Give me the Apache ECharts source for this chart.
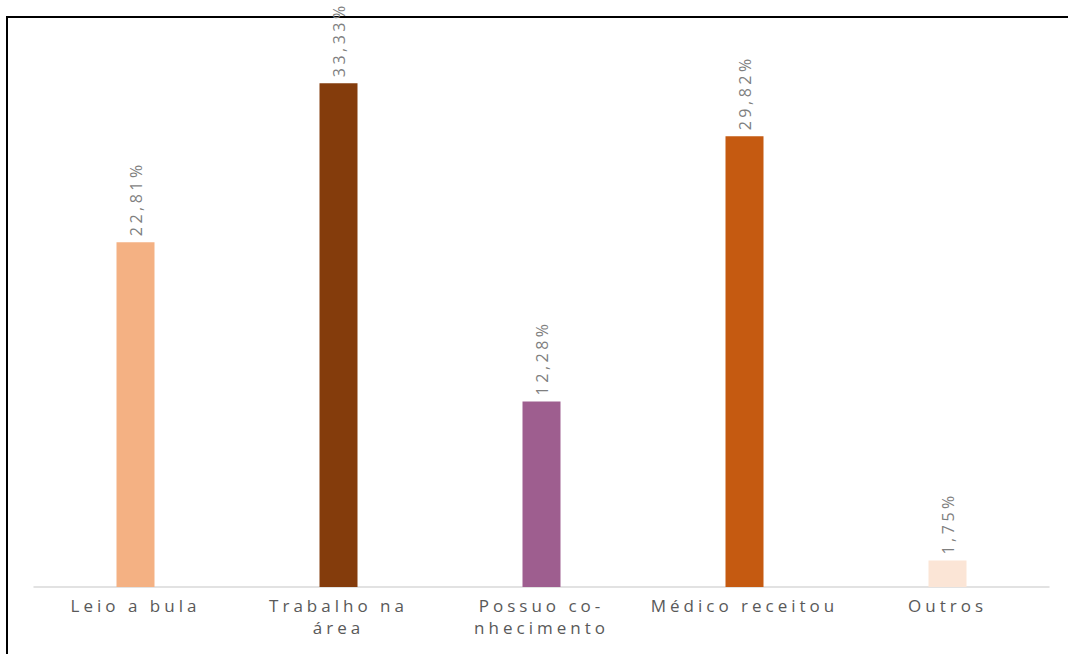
<!DOCTYPE html>
<html>
<head>
<meta charset="utf-8">
<script src="https://cdn.jsdelivr.net/npm/echarts@6/dist/echarts.min.js"></script>
<style>
html,body{margin:0;padding:0;background:#fff;}
#chart{width:1068px;height:654px;}
#chart text[fill="#595959"], #chart text[fill="rgb(89,89,89)"]{letter-spacing:4px;}
#chart text[fill="#7f7f7f"], #chart text[fill="rgb(127,127,127)"]{letter-spacing:3.5px;}
</style>
</head>
<body>
<div id="chart"></div>
<script>
const categories = ["Leio a bula", "Trabalho na\nárea", "Possuo co-\nnhecimento", "Médico receitou", "Outros"];
const values = [22.81, 33.33, 12.28, 29.82, 1.75];
const labels = ["22,81%", "33,33%", "12,28%", "29,82%", "1,75%"];
const colors = ["#F4B183", "#843C0C", "#9E5E8F", "#C55A11", "#FBE5D6"];

const chart = echarts.init(document.getElementById('chart'), null, {renderer: 'svg'});
chart.setOption({
  animation: false,
  backgroundColor: '#ffffff',
  grid: {left: 34, right: 19, top: 58, bottom: 67, containLabel: false},
  xAxis: {
    type: 'category',
    data: categories,
    axisLine: {lineStyle: {color: '#d9d9d9', width: 1.5}},
    axisTick: {show: false},
    axisLabel: {
      color: '#595959',
      fontFamily: 'Open Sans',
      fontSize: 17,
      lineHeight: 22,
      margin: 7,
      interval: 0
    }
  },
  yAxis: {
    type: 'value', min: 0, max: 35, show: false,
    splitLine: {show: false}
  },
  series: [{
    type: 'bar',
    barWidth: 38,
    data: values.map((v, i) => ({value: v, itemStyle: {color: colors[i]}})),
    label: {
      show: true,
      position: 'top',
      rotate: 90,
      align: 'left',
      verticalAlign: 'middle',
      distance: 6,
      color: '#7f7f7f',
      fontFamily: 'Open Sans',
      fontSize: 16,
      formatter: p => labels[p.dataIndex]
    }
  }],
  graphic: [
    {type: 'line', shape: {x1: 7, y1: 17, x2: 7, y2: 654}, style: {stroke: '#000', lineWidth: 2}},
    {type: 'line', shape: {x1: 6, y1: 17, x2: 1068, y2: 17}, style: {stroke: '#000', lineWidth: 2}}
  ]
});
</script>
</body>
</html>
